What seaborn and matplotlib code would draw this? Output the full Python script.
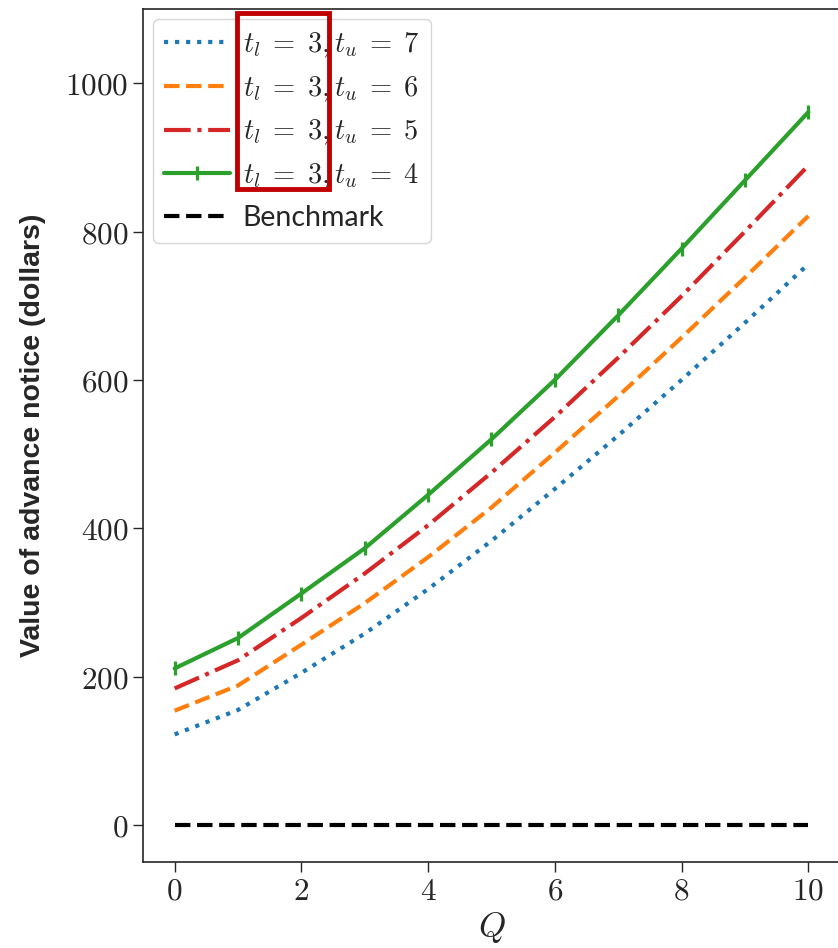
import numpy as np
import pandas as pd
import seaborn as sns
import matplotlib.pyplot as plt
from matplotlib.ticker import FuncFormatter
from matplotlib.patches import Rectangle

# Daten
Q = [0, 1, 2, 3, 4, 5, 6, 7, 8, 9, 10]
tu7 = [122, 155, 205, 258, 318, 383, 453, 525, 600, 677, 756]
tu6 = [154, 188, 243, 299, 361, 428, 502, 578, 657, 738, 821]
tu5 = [184, 222, 279, 339, 404, 475, 550, 630, 713, 800, 889]
tu4 = [211, 252, 312, 373, 445, 520, 600, 687, 777, 869, 961]
benchmark = [0, 0, 0, 0, 0, 0, 0, 0, 0, 0, 0]

labels = [r'$t_l \;=\; 3, t_u \;=\; 7$', r'$t_l \;=\; 3, t_u \;=\; 6$',
          r'$t_l \;=\; 3, t_u \;=\; 5$', r'$t_l \;=\; 3, t_u \;=\; 4$', 'Benchmark']

sns.set_style("ticks")
plt.rcParams['font.family'] = ['Lato', 'DejaVu Sans']
plt.rcParams['mathtext.fontset'] = 'cm'

fig = plt.figure(figsize=(8.38, 9.48), dpi=100)
ax = fig.add_axes([0.1706, 0.0907, 0.8318, 0.8998])

lw = 3
sns.lineplot(x=Q, y=tu7, ax=ax, color='tab:blue', linestyle=':', lw=lw, label=labels[0])
sns.lineplot(x=Q, y=tu6, ax=ax, color='tab:orange', linestyle='--', lw=lw, label=labels[1])
sns.lineplot(x=Q, y=tu5, ax=ax, color='tab:red', linestyle='-.', lw=lw, label=labels[2])
sns.lineplot(x=Q, y=tu4, ax=ax, color='tab:green', linestyle='-', lw=lw,
             marker='|', markersize=10, markeredgewidth=2.3,
             markeredgecolor='tab:green', label=labels[3])
sns.lineplot(x=Q, y=benchmark, ax=ax, color='black', linestyle='--', lw=lw, label=labels[4])

ax.set_xlim(-0.5, 10.5)
ax.set_ylim(-50, 1100)
ax.set_xticks([0, 2, 4, 6, 8, 10])
ax.set_yticks([0, 200, 400, 600, 800, 1000])
fmt = FuncFormatter(lambda v, p: f"${v:.0f}$")
ax.xaxis.set_major_formatter(fmt)
ax.yaxis.set_major_formatter(fmt)
ax.tick_params(labelsize=22.5, length=7, width=1)
for s in ax.spines.values():
    s.set_linewidth(1.2)

ax.set_xlabel(r'$Q$', fontsize=25, labelpad=4)
ax.set_ylabel('Value of advance notice (dollars)', fontsize=20.5, fontweight='bold',
              family=['Liberation Sans'], labelpad=14)

ax.legend(loc='upper left', fontsize=20.5, handlelength=2.3, handletextpad=0.45,
          borderaxespad=0.35, labelspacing=0.5)

# roter Markierungsrahmen
fig.patches.append(Rectangle((237 / 838, 1 - 189 / 948), 92 / 838, 176 / 948,
                             transform=fig.transFigure, fill=False,
                             edgecolor='#c00000', linewidth=3.5, zorder=10))

fig.savefig('out.png', dpi=100)
